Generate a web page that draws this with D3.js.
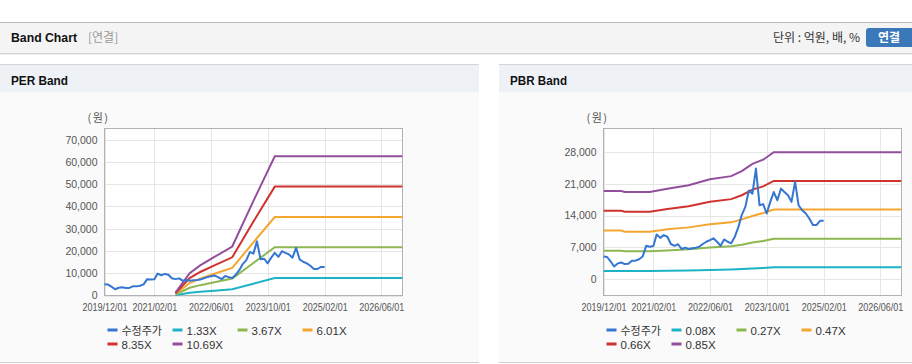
<!DOCTYPE html>
<html>
<head>
<meta charset="utf-8">
<script src="https://cdn.jsdelivr.net/npm/d3@7"></script>
<style>
	body { margin: 0; background: #fff; }
	svg { display: block; font-family: "Liberation Sans", Arial, sans-serif; }
</style>
</head>
<body>
<script>
// 수정주가 (monthly, 2019/12 ~ 2025/02)
const priceDates = ["2019-12","2020-01","2020-02","2020-03","2020-04","2020-05","2020-06","2020-07","2020-08","2020-09","2020-10","2020-11",
	"2020-12","2021-01","2021-02","2021-03","2021-04","2021-05","2021-06","2021-07","2021-08","2021-09","2021-10","2021-11",
	"2021-12","2022-01","2022-02","2022-03","2022-04","2022-05","2022-06","2022-07","2022-08","2022-09","2022-10","2022-11",
	"2022-12","2023-01","2023-02","2023-03","2023-04","2023-05","2023-06","2023-07","2023-08","2023-09","2023-10","2023-11",
	"2023-12","2024-01","2024-02","2024-03","2024-04","2024-05","2024-06","2024-07","2024-08","2024-09","2024-10","2024-11",
	"2024-12","2025-01","2025-02"];
const price = [5000,4900,3900,2800,3500,3700,3350,3400,4100,4100,4400,5000,
	7350,7150,7300,9850,9100,9700,9350,7750,7350,7700,6650,6950,
	6650,6800,6950,7150,7750,8250,8600,9000,8250,7350,8750,8250,
	7900,9350,11500,14100,15900,19500,18800,24300,16250,16500,14450,17000,
	19150,17350,19900,19150,18450,17000,21400,16250,15150,14450,13350,11900,
	11900,12850,12850];

// PER band
const perDates = ["2021-08","2021-12","2022-03","2022-07","2022-12","2023-06","2023-12","2026-12"];
const perLabels = ["1.33X","3.67X","6.01X","8.35X","10.69X"];
const per1 = [150,1250,1700,2150,2800,5300,7850,7850];
const per2 = [450,3450,4650,5950,7600,14600,21700,21700];
const per3 = [750,5600,7600,9750,12400,23900,35200,35200];
const per4 = [1000,7800,10550,13500,17150,33200,48900,48900];
const per5 = [1300,10000,13500,17300,22000,42500,62500,62500];
const perTicks = [0,10000,20000,30000,40000,50000,60000,70000];

// PBR band
const pbrDates = ["2019-12","2020-05","2020-06","2021-01","2021-06","2021-12","2022-06","2022-12","2023-03","2023-06","2023-09","2023-12","2026-12"];
const pbrLabels = ["0.08X","0.27X","0.47X","0.66X","0.85X"];
const pbr1 = [1850,1850,1800,1800,1900,1950,2050,2150,2250,2400,2500,2650,2650];
const pbr2 = [6250,6250,6150,6150,6350,6600,7000,7250,7600,8100,8400,8900,8900];
const pbr3 = [10700,10700,10450,10450,11000,11400,12100,12500,13150,13900,14550,15300,15300];
const pbr4 = [15050,15050,14850,14850,15450,16050,17000,17600,18450,19700,20400,21600,21600];
const pbr5 = [19400,19400,19150,19150,19900,20650,21950,22650,23750,25350,26250,27900,27900];
const pbrTicks = [0,7000,14000,21000,28000];

const xTickDates = ["2019-12-01","2021-02-01","2022-06-01","2023-10-01","2025-02-01","2026-06-01"];
const colors = ["#3476d1","#1cb3c6","#8db751","#f5a62f","#d0322d","#914f9c"];

const parseM = d3.timeParse("%Y-%m");
const parseD = d3.timeParse("%Y-%m-%d");
const fmtD = d3.timeFormat("%Y/%m/%d");

const svg = d3.select("body")
			  .append("svg")
			  .attr("width", 912)
			  .attr("height", 364);

// top header bar
svg.append("rect").attr("x", 0).attr("y", 22).attr("width", 912).attr("height", 31).attr("fill", "#f4f4f4");
svg.append("line").attr("x1", 0).attr("x2", 912).attr("y1", 22.5).attr("y2", 22.5).attr("stroke", "#bcbcbc");
svg.append("line").attr("x1", 0).attr("x2", 912).attr("y1", 53.5).attr("y2", 53.5).attr("stroke", "#d4d4d4");
svg.append("line").attr("x1", 0).attr("x2", 912).attr("y1", 54.5).attr("y2", 54.5).attr("stroke", "#ececec");
svg.append("text").attr("x", 11).attr("y", 42).attr("font-size", "13px").attr("font-weight", "bold").attr("fill", "#111")
   .attr("textLength", 66).attr("lengthAdjust", "spacingAndGlyphs").text("Band Chart");
svg.append("text").attr("x", 88).attr("y", 42).attr("font-size", "12px").attr("fill", "#9a9a9a").attr("font-family", "Noto Sans CJK KR").text("[연결]");
svg.append("text").attr("x", 860).attr("y", 42).attr("text-anchor", "end").attr("font-size", "12px").attr("fill", "#333").attr("font-family", "Noto Sans CJK KR").text("단위 : 억원, 배, %");
svg.append("rect").attr("x", 866).attr("y", 28).attr("width", 52).attr("height", 19).attr("rx", 3).attr("fill", "#3a78b9");
svg.append("text").attr("x", 889).attr("y", 42).attr("text-anchor", "middle").attr("font-size", "12px").attr("font-weight", "bold").attr("fill", "#fff").attr("font-family", "Noto Sans CJK KR").text("연결");

function drawPanel(cfg) {
	const g = svg.append("g");

	g.append("rect").attr("x", cfg.px).attr("y", 64).attr("width", cfg.pw).attr("height", 298).attr("fill", "#fafafa");
	g.append("rect").attr("x", cfg.px).attr("y", 64).attr("width", cfg.pw).attr("height", 28).attr("fill", "#eef2f7");
	g.append("line").attr("x1", cfg.px).attr("x2", cfg.px + cfg.pw).attr("y1", 64.5).attr("y2", 64.5).attr("stroke", "#d4d4d4");
	g.append("line").attr("x1", cfg.px).attr("x2", cfg.px + cfg.pw).attr("y1", 362.5).attr("y2", 362.5).attr("stroke", "#cfcfcf");
	g.append("text").attr("x", cfg.px + 11).attr("y", 85).attr("font-size", "13px").attr("font-weight", "bold").attr("fill", "#111")
	 .attr("textLength", 57).attr("lengthAdjust", "spacingAndGlyphs").text(cfg.title);

	const x = d3.scaleTime()
				.domain([parseD("2019-12-01"), parseD("2026-12-01")])
				.range([cfg.left, cfg.right]);
	const y = d3.scaleLinear()
				.domain(cfg.yDomain)
				.range([295.5, 128.5]);

	g.append("rect").attr("x", cfg.left).attr("y", 128.5).attr("width", cfg.right - cfg.left).attr("height", 167).attr("fill", "#fff");

	// grid
	g.selectAll(".hgrid").data(cfg.yTicks).enter().append("line")
	 .attr("x1", cfg.left).attr("x2", cfg.right)
	 .attr("y1", d => Math.round(y(d)) + 0.5).attr("y2", d => Math.round(y(d)) + 0.5)
	 .attr("stroke", "#e6e6e6");
	g.selectAll(".vgrid").data(xTickDates.map(parseD)).enter().append("line")
	 .attr("x1", d => Math.round(x(d)) + 0.5).attr("x2", d => Math.round(x(d)) + 0.5)
	 .attr("y1", 128.5).attr("y2", 295.5)
	 .attr("stroke", "#e6e6e6");

	// axes labels
	const yAxis = d3.axisLeft(y).tickValues(cfg.yTicks).tickSize(0).tickPadding(7).tickFormat(d3.format(","));
	const ya = g.append("g").attr("transform", `translate(${cfg.left},0)`).call(yAxis);
	ya.select(".domain").remove();
	ya.selectAll("text").attr("font-size", "10.5px").attr("fill", "#555").attr("font-family", "Liberation Sans, Arial, sans-serif");

	const xAxis = d3.axisBottom(x).tickValues(xTickDates.map(parseD)).tickSize(0).tickPadding(8).tickFormat(fmtD);
	const xa = g.append("g").attr("transform", "translate(0,295.5)").call(xAxis);
	xa.select(".domain").remove();
	xa.selectAll("text").attr("font-size", "10.5px").attr("fill", "#555").attr("font-family", "Liberation Sans, Arial, sans-serif")
	  .attr("textLength", 45).attr("lengthAdjust", "spacingAndGlyphs");

	g.append("text").attr("x", cfg.left - 17).attr("y", 122).attr("font-size", "11px").attr("fill", "#555")
	 .attr("letter-spacing", "1.5px").attr("font-family", "Noto Sans CJK KR").text("(원)");

	g.append("rect").attr("x", cfg.left).attr("y", 128.5).attr("width", cfg.right - cfg.left).attr("height", 167)
	 .attr("fill", "none").attr("stroke", "#b2b2b2");

	const line = d3.line().x(d => x(d[0])).y(d => y(d[1]));
	const clipId = "clip" + cfg.title.slice(0, 3);
	g.append("clipPath").attr("id", clipId).append("rect")
	 .attr("x", cfg.left).attr("y", 128).attr("width", cfg.right - cfg.left).attr("height", 168);

	cfg.bands.forEach((band, i) => {
		g.append("path")
		 .datum(band.map((v, j) => [parseM(cfg.bandDates[j]), v]))
		 .attr("clip-path", `url(#${clipId})`)
		 .attr("fill", "none")
		 .attr("stroke", colors[i + 1])
		 .attr("stroke-width", 2)
		 .attr("d", line);
	});
	g.append("path")
	 .datum(price.map((v, j) => [parseM(priceDates[j]), v]))
	 .attr("fill", "none")
	 .attr("stroke", colors[0])
	 .attr("stroke-width", 2)
	 .attr("stroke-linejoin", "round")
	 .attr("d", line);

	// legend
	const names = ["수정주가"].concat(cfg.labels);
	const leg = g.selectAll(".leg").data(names).enter().append("g")
				 .attr("transform", (d, i) => `translate(${cfg.left + 3 + (i % 4) * 65},${i < 4 ? 330 : 344})`);
	leg.append("rect").attr("x", 0).attr("y", -1.5).attr("width", 10).attr("height", 3).attr("fill", (d, i) => colors[i]);
	leg.append("text").attr("x", 14).attr("y", 4.5)
	   .attr("font-size", (d, i) => i === 0 ? "11px" : "11.5px").attr("fill", "#333")
	   .attr("font-family", (d, i) => i === 0 ? "Noto Sans CJK KR" : "Liberation Sans, Arial, sans-serif").text(d => d);
}

drawPanel({
	title: "PER Band", px: 0, pw: 479, left: 104.5, right: 402.5,
	yDomain: [0, 75000], yTicks: perTicks,
	bandDates: perDates, bands: [per1, per2, per3, per4, per5], labels: perLabels
});
drawPanel({
	title: "PBR Band", px: 499, pw: 413, left: 603.5, right: 901.5,
	yDomain: [-3550, 33100], yTicks: pbrTicks,
	bandDates: pbrDates, bands: [pbr1, pbr2, pbr3, pbr4, pbr5], labels: pbrLabels
});
</script>
</body>
</html>
